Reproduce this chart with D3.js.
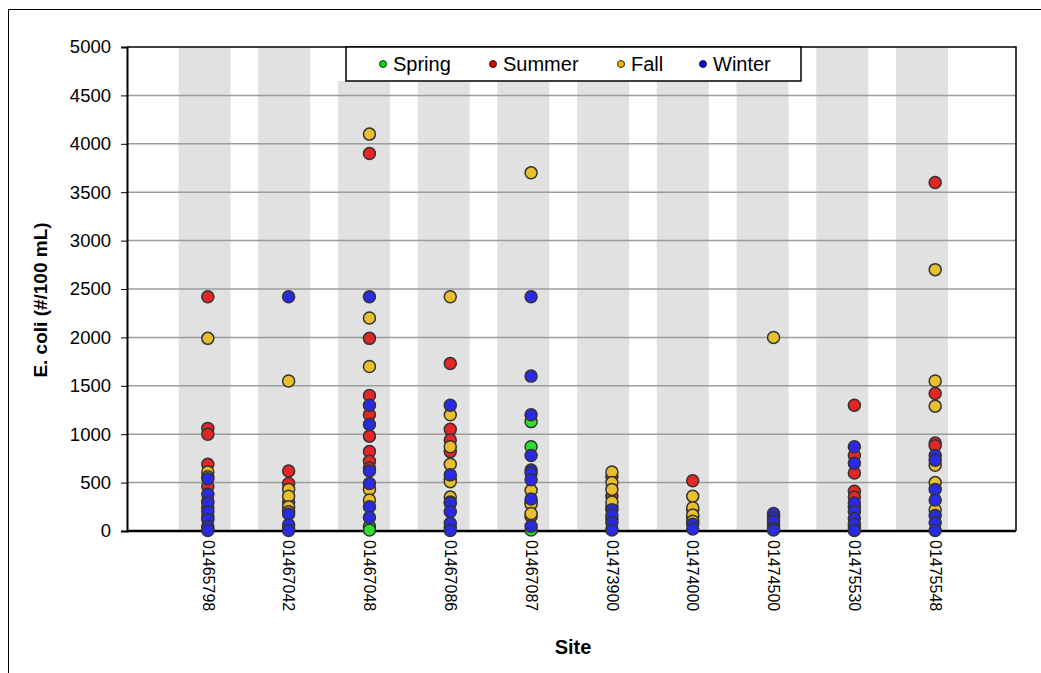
<!DOCTYPE html>
<html>
<head>
<meta charset="utf-8">
<script src="https://cdn.jsdelivr.net/npm/d3@7/dist/d3.min.js"></script>
<style>
  body { margin: 0; background: #fff; }
  svg { display: block; font-family: "Liberation Sans", Arial, sans-serif; }
</style>
</head>
<body>
<div id="chart"></div>
<script>
(function () {

// sites along the x axis
var sites = ["01465798", "01467042", "01467048", "01467086", "01467087",
             "01473900", "01474000", "01474500", "01475530", "01475548"];

// E. coli values (#/100 mL), one list per site, per season
var spring = [
  [150, 20], [30], [45, 10], [40], [1130, 870, 10],
  [20], [], [], [10], []
];
var summer = [
  [2420, 1060, 1000, 690, 460, 310], [620, 490, 300], [3900, 1990, 1400, 1200, 980, 820, 720, 650],
  [1730, 1050, 940, 820, 540], [300, 150], [560, 360, 250], [520, 220, 150],
  [60], [1300, 780, 600, 410, 350], [3600, 1420, 910, 880]
];
var fall = [
  [1990, 610, 560, 240], [1550, 430, 360, 250, 200], [4100, 2200, 1700, 430, 320],
  [2420, 1200, 870, 690, 510, 350, 300], [3700, 420, 280, 180], [610, 500, 430, 300, 120],
  [360, 240, 165, 100], [2000, 160], [250, 40], [2700, 1550, 1290, 680, 500, 220]
];
var winter = [
  [540, 380, 290, 200, 120, 45, 5], [2420, 175, 65, 5], [2420, 1300, 1100, 620, 490, 250, 140],
  [1300, 580, 290, 200, 80, 5], [2420, 1600, 1200, 780, 630, 600, 530, 330, 50],
  [220, 165, 85, 10], [70, 20], [180, 140, 100, 30, 10], [870, 700, 290, 200, 130, 70, 5],
  [780, 730, 430, 320, 160, 85, 5]
];
var yTicks = [0, 500, 1000, 1500, 2000, 2500, 3000, 3500, 4000, 4500, 5000];

var seasons = [
  {name: "Spring", data: spring, fill: "#2ee02e", key: "#00dd00"},
  {name: "Summer", data: summer, fill: "#e42626", key: "#e00000"},
  {name: "Fall",   data: fall,   fill: "#e8c02e", key: "#f0b800"},
  {name: "Winter", data: winter, fill: "#2a2ae4", key: "#0000dd"}
];

var width = 1041, height = 673;
var plot = {left: 127, right: 1016, top: 47, bottom: 531};

var svg = d3.select('#chart')
  .append('svg')
  .attr('width', width)
  .attr('height', height);

// outer frame (only left and top show)
svg.append('path')
  .attr('d', 'M8.5,' + height + 'V9.5H' + width)
  .attr('fill', 'none')
  .attr('stroke', '#000')
  .attr('stroke-width', 1);

var x = d3.scaleLinear().domain([0, 11]).range([plot.left, plot.right]);
var y = d3.scaleLinear().domain([0, 5000]).range([plot.bottom, plot.top]);
// the gray bands sit on their own (slightly narrower) category axis
var xBand = d3.scaleLinear().domain([1, 10]).range([204.5, 922]);

// gray column bands
svg.append('g')
  .selectAll('rect')
  .data(sites)
  .enter()
  .append('rect')
  .attr('x', function (d, i) { return xBand(i + 1) - 26; })
  .attr('y', y(5000))
  .attr('width', 52)
  .attr('height', y(0) - y(5000) - 1.5)
  .attr('fill', '#e1e1e1');

// gridlines
svg.append('g')
  .selectAll('line')
  .data(yTicks.filter(function (d) { return d > 0 && d < 5000; }))
  .enter()
  .append('line')
  .attr('x1', plot.left)
  .attr('x2', plot.right)
  .attr('y1', function (d) { return y(d); })
  .attr('y2', function (d) { return y(d); })
  .attr('stroke', '#9c9c9c')
  .attr('stroke-width', 1.5);

// legend background hides the band tops
svg.append('rect')
  .attr('x', 336).attr('y', plot.top)
  .attr('width', 469).attr('height', 34)
  .attr('fill', '#fff');

// plot frame
svg.append('path')
  .attr('d', 'M' + plot.left + ',' + plot.top + 'H' + plot.right + 'V' + plot.bottom)
  .attr('fill', 'none')
  .attr('stroke', '#000')
  .attr('stroke-width', 1.5);

// y axis
var yAxis = svg.append('g')
  .attr('transform', 'translate(' + plot.left + ',0)')
  .call(d3.axisLeft(y).tickValues(yTicks).tickSize(6).tickPadding(10).tickFormat(function (d) { return d; }));
yAxis.select('.domain').attr('stroke-width', 2);
yAxis.selectAll('text').style('font-size', '18.5px').attr('fill', '#000');

// x axis
var xAxis = svg.append('g')
  .attr('transform', 'translate(0,' + plot.bottom + ')')
  .call(d3.axisBottom(x).tickValues(d3.range(1, 11)).tickSize(0)
    .tickFormat(function (d) { return sites[d - 1]; }));
xAxis.select('.domain').attr('stroke-width', 2.5).attr('d', 'M' + plot.left + ',0H' + plot.right);
xAxis.selectAll('text')
  .style('font-size', '16px')
  .attr('fill', '#000')
  .attr('text-anchor', 'start')
  .attr('transform', 'rotate(90)')
  .attr('x', 9)
  .attr('y', 0)
  .attr('dy', '0.36em');

// points, drawn in legend order
seasons.forEach(function (s) {
  var pts = [];
  s.data.forEach(function (vals, i) {
    vals.forEach(function (v) { pts.push({site: i + 1, value: v}); });
  });
  svg.append('g')
    .selectAll('circle')
    .data(pts)
    .enter()
    .append('circle')
    .attr('cx', function (d) { return x(d.site); })
    .attr('cy', function (d) { return y(d.value); })
    .attr('r', 6)
    .attr('fill', s.fill)
    .attr('stroke', '#333')
    .attr('stroke-width', 1.5);
});

// legend
var legend = svg.append('g');
legend.append('rect')
  .attr('x', 346).attr('y', plot.top)
  .attr('width', 455).attr('height', 34)
  .attr('fill', '#fff')
  .attr('stroke', '#000')
  .attr('stroke-width', 1.5);

var legendX = [383, 493, 621, 703];
seasons.forEach(function (s, i) {
  var g = legend.append('g').attr('transform', 'translate(' + legendX[i] + ',64)');
  g.append('circle').attr('r', 3.5).attr('fill', s.key).attr('stroke', '#222').attr('stroke-width', 1);
  g.append('text')
    .attr('x', 10)
    .attr('dy', '0.36em')
    .style('font-size', '20px')
    .text(s.name);
});

// axis titles
svg.append('text')
  .attr('transform', 'translate(47,' + 300 + ') rotate(-90)')
  .attr('text-anchor', 'middle')
  .style('font-size', '19px')
  .style('font-weight', 'bold')
  .text('E. coli (#/100 mL)');

svg.append('text')
  .attr('x', 573)
  .attr('y', 654)
  .attr('text-anchor', 'middle')
  .style('font-size', '20px')
  .style('font-weight', 'bold')
  .text('Site');

})();
</script>
</body>
</html>
